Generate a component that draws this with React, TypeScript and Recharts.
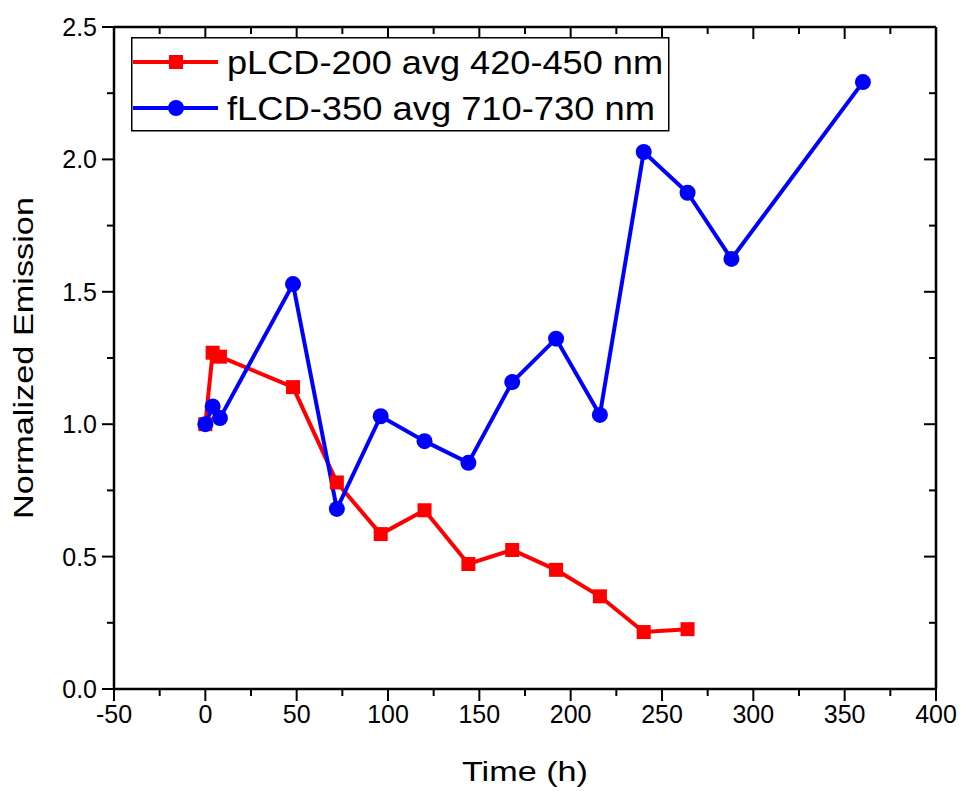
import React from 'react';
import { LineChart, Line, XAxis, YAxis, Legend } from 'recharts';

const redTimes = [0, 4, 8, 48, 72, 96, 120, 144, 168, 192, 216, 240, 264];
const redValues = [1.0, 1.27, 1.255, 1.14, 0.78, 0.585, 0.675, 0.472, 0.525, 0.45, 0.35, 0.215, 0.226];

const blueTimes = [0, 4, 8, 48, 72, 96, 120, 144, 168, 192, 216, 240, 264, 288, 360];
const blueValues = [1.0, 1.067, 1.023, 1.529, 0.68, 1.03, 0.936, 0.854, 1.159, 1.323, 1.035, 2.028, 1.874, 1.624, 2.292];

const xTicks = [-50, -25, 0, 25, 50, 75, 100, 125, 150, 175, 200, 225, 250, 275, 300, 325, 350, 375, 400];
const yTicks = [0, 0.25, 0.5, 0.75, 1.0, 1.25, 1.5, 1.75, 2.0, 2.25, 2.5];

const redName = 'pLCD-200 avg 420-450 nm';
const blueName = 'fLCD-350 avg 710-730 nm';

const RED = '#ff0000';
const BLUE = '#0000ff';
const FONT = '"Liberation Sans", Arial, sans-serif';

const redData = redTimes.map((t, i) => ({ x: t, y: redValues[i] }));
const blueData = blueTimes.map((t, i) => ({ x: t, y: blueValues[i] }));

const isMajorX = (v: number) => v % 50 === 0;
const isMajorY = (v: number) => Math.abs(v * 2 - Math.round(v * 2)) < 1e-6;

const BottomTick = ({ x, y, payload }: any) => {
  const major = isMajorX(payload.value);
  return (
    <g>
      <line x1={x} x2={x} y1={y} y2={y + (major ? 12 : 7)} stroke="#000" strokeWidth={2} />
      {major && (
        <text x={x} y={y + 34} textAnchor="middle" fontSize={25} fontFamily={FONT} fill="#000">
          {payload.value}
        </text>
      )}
    </g>
  );
};

const TopTick = ({ x, y, payload }: any) => {
  const major = isMajorX(payload.value);
  return <line x1={x} x2={x} y1={y} y2={y + (major ? 12 : 7)} stroke="#000" strokeWidth={2} />;
};

const LeftTick = ({ x, y, payload }: any) => {
  const major = isMajorY(payload.value);
  return (
    <g>
      <line x1={x} x2={x - (major ? 12 : 7)} y1={y} y2={y} stroke="#000" strokeWidth={2} />
      {major && (
        <text x={x - 17} y={y + 9} textAnchor="end" fontSize={25} fontFamily={FONT} fill="#000">
          {payload.value.toFixed(1)}
        </text>
      )}
    </g>
  );
};

const RightTick = ({ x, y, payload }: any) => {
  const major = isMajorY(payload.value);
  return <line x1={x} x2={x - (major ? 12 : 7)} y1={y} y2={y} stroke="#000" strokeWidth={2} />;
};

const YTitle = ({ viewBox }: any) => {
  const cx = viewBox.x + 23;
  const cy = viewBox.y + viewBox.height / 2;
  return (
    <text
      x={cx}
      y={cy}
      transform={`rotate(-90 ${cx} ${cy})`}
      textAnchor="middle"
      dominantBaseline="central"
      fontSize={28}
      fontFamily={FONT}
      textLength={322}
      lengthAdjust="spacingAndGlyphs"
      fill="#000"
    >
      Normalized Emission
    </text>
  );
};

const XTitle = ({ viewBox }: any) => {
  const cx = viewBox.x + viewBox.width / 2;
  return (
    <text
      x={cx}
      y={viewBox.y + 92}
      textAnchor="middle"
      fontSize={28}
      fontFamily={FONT}
      textLength={126}
      lengthAdjust="spacingAndGlyphs"
      fill="#000"
    >
      Time (h)
    </text>
  );
};

const SquareDot = ({ cx, cy, index }: any) => (
  <rect key={`sq-${index}`} x={cx - 7} y={cy - 7} width={14} height={14} fill={RED} />
);

const CircleDot = ({ cx, cy, index }: any) => (
  <circle key={`ci-${index}`} cx={cx} cy={cy} r={8} fill={BLUE} />
);

const LegendBox = () => {
  const items = [
    { name: redName, color: RED, shape: 'square' },
    { name: blueName, color: BLUE, shape: 'circle' },
  ];
  return (
    <svg width={540} height={96} style={{ display: 'block' }}>
      <rect x={0.75} y={0.75} width={537} height={93} fill="#fff" stroke="#000" strokeWidth={1.5} />
      {items.map((it, i) => {
        const cy = 25 + i * 46;
        return (
          <g key={it.name}>
            <line x1={2} x2={87} y1={cy} y2={cy} stroke={it.color} strokeWidth={4} />
            {it.shape === 'square' ? (
              <rect x={38} y={cy - 7} width={14} height={14} fill={it.color} />
            ) : (
              <circle cx={45} cy={cy} r={8} fill={it.color} />
            )}
            <text
              x={96}
              y={cy + 12}
              fontSize={33}
              fontFamily={FONT}
              textLength={i === 0 ? 436 : 428}
              lengthAdjust="spacingAndGlyphs"
              fill="#000"
            >
              {it.name}
            </text>
          </g>
        );
      })}
    </svg>
  );
};

export default function App() {
  return (
    <div style={{ position: 'absolute', left: 0, top: 0, width: 963, height: 791, background: '#fff' }}>
      <LineChart width={963} height={791} margin={{ top: 26, right: 26, bottom: 0, left: 0 }}>
        <XAxis
          xAxisId="bottom"
          dataKey="x"
          type="number"
          domain={[-50, 400]}
          ticks={xTicks}
          interval={0}
          height={102}
          tickSize={0}
          tickMargin={0}
          tickLine={false}
          tick={<BottomTick />}
          axisLine={{ stroke: '#000', strokeWidth: 2.5 }}
          allowDataOverflow
          label={<XTitle />}
        />
        <XAxis
          xAxisId="top"
          orientation="top"
          dataKey="x"
          type="number"
          domain={[-50, 400]}
          ticks={xTicks}
          interval={0}
          height={1}
          tickSize={0}
          tickMargin={0}
          tickLine={false}
          tick={<TopTick />}
          axisLine={{ stroke: '#000', strokeWidth: 2.5 }}
          allowDataOverflow
        />
        <YAxis
          yAxisId="left"
          type="number"
          domain={[0, 2.5]}
          ticks={yTicks}
          interval={0}
          width={114}
          tickSize={0}
          tickMargin={0}
          tickLine={false}
          tick={<LeftTick />}
          axisLine={{ stroke: '#000', strokeWidth: 2.5 }}
          allowDataOverflow
          label={<YTitle />}
        />
        <YAxis
          yAxisId="right"
          orientation="right"
          type="number"
          domain={[0, 2.5]}
          ticks={yTicks}
          interval={0}
          width={1}
          tickSize={0}
          tickMargin={0}
          tickLine={false}
          tick={<RightTick />}
          axisLine={{ stroke: '#000', strokeWidth: 2.5 }}
          allowDataOverflow
        />
        <Legend
          layout="vertical"
          align="center"
          verticalAlign="middle"
          content={<LegendBox />}
          wrapperStyle={{ position: 'absolute', left: 131, top: 37, width: 540, height: 96 }}
        />
        <Line
          xAxisId="bottom"
          yAxisId="left"
          data={redData}
          dataKey="y"
          name={redName}
          stroke={RED}
          strokeWidth={4}
          dot={SquareDot}
          activeDot={false}
          isAnimationActive={false}
        />
        <Line
          xAxisId="bottom"
          yAxisId="left"
          data={blueData}
          dataKey="y"
          name={blueName}
          stroke={BLUE}
          strokeWidth={4}
          dot={CircleDot}
          activeDot={false}
          isAnimationActive={false}
        />
      </LineChart>
    </div>
  );
}
